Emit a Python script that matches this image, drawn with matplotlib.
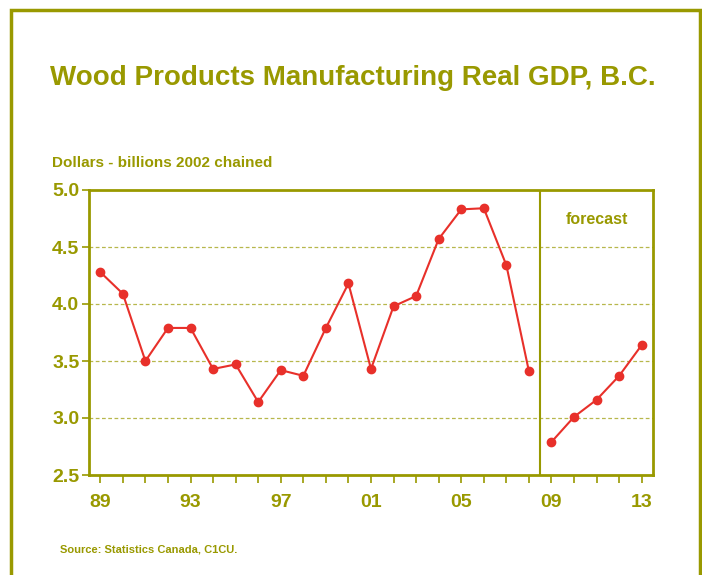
import numpy as np
import matplotlib
matplotlib.use('Agg')
import matplotlib.pyplot as plt
from matplotlib.patches import Rectangle

olive = '#999900'
red = '#e8302a'

years_hist = list(range(1989, 2009))
gdp_hist = [4.28, 4.09, 3.50, 3.79, 3.79, 3.43, 3.47, 3.14, 3.42, 3.37,
            3.79, 4.18, 3.43, 3.98, 4.07, 4.57, 4.83, 4.84, 4.34, 3.41]
years_fc = list(range(2009, 2014))
gdp_fc = [2.79, 3.01, 3.16, 3.37, 3.64]
tick_years = [1989, 1993, 1997, 2001, 2005, 2009, 2013]
tick_labels = ['89', '93', '97', '01', '05', '09', '13']

plt.rcParams['font.family'] = ['Liberation Sans', 'DejaVu Sans']
plt.rcParams['font.weight'] = 'bold'

fig = plt.figure(figsize=(7.02, 5.75), dpi=100)
# outer frame
fig.patches.append(Rectangle((11/702, -0.05), 689/702, 1.05 - 10/575, transform=fig.transFigure,
                             fill=False, edgecolor=olive, linewidth=2.5))

ax = fig.add_axes([89/702, 1-475/575, 564/702, 285/575])
ax.plot(years_hist, gdp_hist, color=red, marker='o', markersize=6, linewidth=1.5)
ax.plot(years_fc, gdp_fc, color=red, marker='o', markersize=6, linewidth=1.5)

ax.set_xlim(1988.5, 2013.5)
ax.set_ylim(2.5, 5.0)
ax.set_yticks([2.5, 3.0, 3.5, 4.0, 4.5, 5.0])
ax.set_yticklabels(['2.5', '3.0', '3.5', '4.0', '4.5', '5.0'])
ax.set_xticks(tick_years)
ax.set_xticklabels(tick_labels)
ax.set_xticks(range(1989, 2014), minor=True)
for y in [3.0, 3.5, 4.0, 4.5]:
    ax.axhline(y, color=olive, linestyle=(0, (3, 2)), linewidth=0.9, alpha=0.7, zorder=0)
ax.axvline(2008.5, color=olive, linewidth=1.5)
ax.text(2011, 4.745, 'forecast', color=olive, fontsize=11.5, fontweight='bold',
        ha='center', va='center')

for s in ax.spines.values():
    s.set_color(olive)
    s.set_linewidth(2)
ax.tick_params(axis='both', which='both', direction='out', color=olive, width=1.2,
               labelcolor=olive, labelsize=14)
ax.tick_params(axis='x', which='both', length=6, pad=8)
ax.tick_params(axis='y', length=5, pad=2)

fig.text(353/702, 1-78/575, 'Wood Products Manufacturing Real GDP, B.C.', color=olive,
         fontsize=20, fontweight='bold', ha='center', va='center')
fig.text(52/702, 1-163/575, 'Dollars - billions 2002 chained', color=olive,
         fontsize=11, fontweight='bold', ha='left', va='center')
fig.text(60/702, 1-549/575, 'Source: Statistics Canada, C1CU.', color=olive,
         fontsize=8, fontweight='bold', ha='left', va='center')

fig.savefig('out.png', dpi=100)
